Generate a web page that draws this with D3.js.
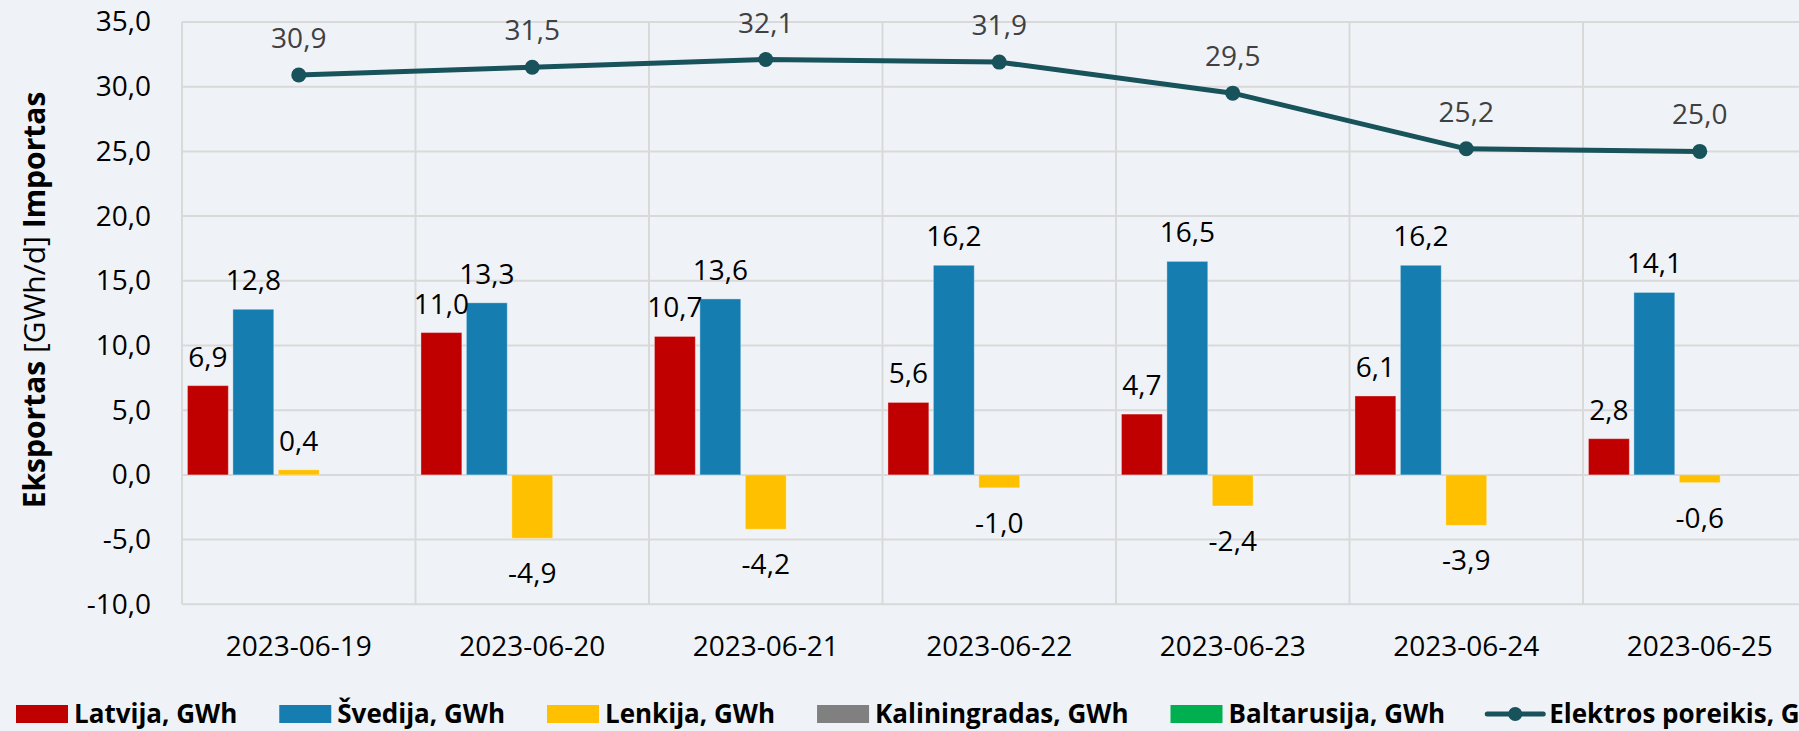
<!DOCTYPE html>
<html>
<head>
<meta charset="utf-8">
<script src="https://cdn.jsdelivr.net/npm/d3@7"></script>
<style>
  html, body { margin: 0; padding: 0; background: #eff3f7; overflow: hidden; }
  svg { display: block; font-family: "Open Sans", "Noto Sans", sans-serif; }
</style>
</head>
<body>
<div id="chart"></div>
<script>
// Categories and series
const dates = ["2023-06-19", "2023-06-20", "2023-06-21", "2023-06-22", "2023-06-23", "2023-06-24", "2023-06-25"];
const seriesNames = ["Latvija, GWh", "Švedija, GWh", "Lenkija, GWh", "Kaliningradas, GWh", "Baltarusija, GWh"];
const latvija = [6.9, 11.0, 10.7, 5.6, 4.7, 6.1, 2.8];
const svedija = [12.8, 13.3, 13.6, 16.2, 16.5, 16.2, 14.1];
const lenkija = [0.4, -4.9, -4.2, -1.0, -2.4, -3.9, -0.6];
const kaliningradas = [0, 0, 0, 0, 0, 0, 0];
const baltarusija = [0, 0, 0, 0, 0, 0, 0];
const lineName = "Elektros poreikis, GWh";
const poreikis = [30.9, 31.5, 32.1, 31.9, 29.5, 25.2, 25.0];
const yTicks = [-10, -5, 0, 5, 10, 15, 20, 25, 30, 35];

const barColors = ["#c00000", "#167db0", "#ffc000", "#808080", "#00b050"];
const lineColor = "#18525a";

const W = 1799, H = 731;
const margin = { left: 182, top: 22 };
const catWidth = 233.5;
const plotW = catWidth * dates.length;
const plotH = 582.3;

const locale = d3.formatLocale({ decimal: ",", thousands: " ", grouping: [3], currency: ["", ""], minus: "-" });
const fmt = locale.format(".1f");

const svg = d3.select("#chart").append("svg")
    .attr("width", W)
    .attr("height", H);

svg.append("rect").attr("width", W).attr("height", H).attr("fill", "#eff3f7");

const g = svg.append("g").attr("transform", `translate(${margin.left},${margin.top})`);

const x0 = d3.scaleBand().domain(dates).range([0, plotW]).padding(0);
const x1 = d3.scaleBand().domain(seriesNames).range([0, x0.bandwidth()]).paddingInner(0.1).paddingOuter(0.12);
const y = d3.scaleLinear().domain([-10, 35]).range([plotH, 0]);

// gridlines
g.append("g").selectAll("line.h")
    .data(yTicks)
    .enter().append("line")
    .attr("x1", 0).attr("x2", plotW)
    .attr("y1", d => y(d)).attr("y2", d => y(d))
    .attr("stroke", "#d9d9d9").attr("stroke-width", 2);

g.append("g").selectAll("line.v")
    .data(d3.range(dates.length + 1))
    .enter().append("line")
    .attr("x1", i => i * x0.step()).attr("x2", i => i * x0.step())
    .attr("y1", 0).attr("y2", plotH)
    .attr("stroke", "#d9d9d9").attr("stroke-width", 2);

// y axis labels
const yAxis = g.append("g")
    .call(d3.axisLeft(y).tickValues(yTicks).tickFormat(fmt).tickSize(0).tickPadding(31));
yAxis.select(".domain").remove();
yAxis.selectAll("text")
    .attr("font-size", 28)
    .attr("font-family", "Open Sans")
    .attr("fill", "#000");

// x axis labels
const xAxis = g.append("g")
    .attr("transform", `translate(0,${plotH})`)
    .call(d3.axisBottom(x0).tickSize(0).tickPadding(32));
xAxis.select(".domain").remove();
xAxis.selectAll("text")
    .attr("font-size", 28)
    .attr("font-family", "Open Sans")
    .attr("fill", "#000");

// bars
const seriesValues = [latvija, svedija, lenkija, kaliningradas, baltarusija];
const barData = [];
dates.forEach((d, i) => {
    seriesNames.forEach((s, j) => {
        barData.push({ date: d, series: s, idx: j, value: seriesValues[j][i] });
    });
});

g.append("g").selectAll("rect")
    .data(barData)
    .enter().append("rect")
    .attr("x", d => x0(d.date) + x1(d.series))
    .attr("width", x1.bandwidth())
    .attr("y", d => y(Math.max(0, d.value)))
    .attr("height", d => Math.abs(y(d.value) - y(0)))
    .attr("fill", d => barColors[d.idx])
    .attr("stroke", "rgba(255,255,255,0.35)")
    .attr("stroke-width", 1);

// bar labels
g.append("g").selectAll("text")
    .data(barData.filter(d => d.value !== 0))
    .enter().append("text")
    .attr("x", d => x0(d.date) + x1(d.series) + x1.bandwidth() / 2)
    .attr("y", d => d.value >= 0 ? y(d.value) - 19 : y(d.value) + 45)
    .attr("text-anchor", "middle")
    .attr("font-size", 28)
    .attr("fill", "#000")
    .text(d => fmt(d.value));

// line
const xc = d => x0(d) + x0.bandwidth() / 2;
const line = d3.line()
    .x((d, i) => xc(dates[i]))
    .y(d => y(d));

g.append("path")
    .datum(poreikis)
    .attr("d", line)
    .attr("fill", "none")
    .attr("stroke", lineColor)
    .attr("stroke-width", 5)
    .attr("stroke-linejoin", "round");

g.append("g").selectAll("circle")
    .data(poreikis)
    .enter().append("circle")
    .attr("cx", (d, i) => xc(dates[i]))
    .attr("cy", d => y(d))
    .attr("r", 7.5)
    .attr("fill", lineColor);

g.append("g").selectAll("text")
    .data(poreikis)
    .enter().append("text")
    .attr("x", (d, i) => xc(dates[i]))
    .attr("y", d => y(d) - 27)
    .attr("text-anchor", "middle")
    .attr("font-size", 28)
    .attr("fill", "#404040")
    .text(d => fmt(d));

// y axis title
const title = svg.append("text")
    .attr("transform", `translate(45,300) rotate(-90)`)
    .attr("text-anchor", "middle")
    .attr("font-size", 30)
    .attr("fill", "#000");
title.append("tspan").attr("font-weight", "bold").text("Eksportas ");
title.append("tspan").text("[GWh/d] ");
title.append("tspan").attr("font-weight", "bold").text("Importas");

// legend
const legendItems = seriesNames.map((s, j) => ({ name: s, color: barColors[j], type: "bar" }))
    .concat([{ name: lineName, color: lineColor, type: "line" }]);
const legend = svg.append("g").attr("transform", "translate(16,713)");
let lx = 0;
legendItems.forEach(item => {
    const it = legend.append("g").attr("transform", `translate(${lx},0)`);
    let sw;
    if (item.type === "bar") {
        sw = 52;
        it.append("rect").attr("x", 0).attr("y", -8).attr("width", 52).attr("height", 18).attr("fill", item.color);
    } else {
        sw = 56;
        it.append("line").attr("x1", 0).attr("x2", 56).attr("y1", 1).attr("y2", 1)
            .attr("stroke", item.color).attr("stroke-width", 5).attr("stroke-linecap", "round");
        it.append("circle").attr("cx", 28).attr("cy", 1).attr("r", 7).attr("fill", item.color);
    }
    const t = it.append("text")
        .attr("x", sw + 6)
        .attr("y", 10)
        .attr("font-size", 26)
        .attr("font-weight", "bold")
        .attr("fill", "#000")
        .text(item.name);
    lx += sw + 6 + t.node().getComputedTextLength() + 42;
});
</script>
</body>
</html>
